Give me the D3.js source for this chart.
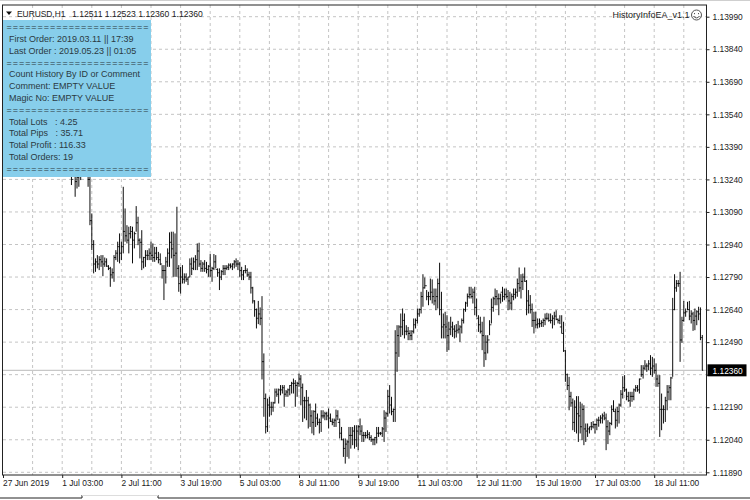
<!DOCTYPE html>
<html>
<head>
<meta charset="utf-8">
<title>EURUSD,H1</title>
<script src="https://d3js.org/d3.v7.min.js"></script>
<style>
html, body { margin: 0; padding: 0; background: #fff; }
svg { display: block; }
text { font-family: 'Liberation Sans', Arial, sans-serif; font-size: 8.4px; fill: #222; white-space: pre; }
</style>
</head>
<body>
<div id="chart"></div>
<script>
// values
var priceTicks = [1.13990,1.13840,1.13690,1.13540,1.13390,1.13240,1.13090,1.12940,1.12790,1.12640,1.12490,1.12340,1.12190,1.12040,1.11890];
var timeLabels = ["27 Jun 2019","1 Jul 03:00","2 Jul 11:00","3 Jul 19:00","5 Jul 03:00","8 Jul 11:00","9 Jul 19:00","11 Jul 03:00","12 Jul 11:00","15 Jul 19:00","17 Jul 03:00","18 Jul 11:00"];
var panelLines = ["First Order: 2019.03.11 || 17:39","Last Order : 2019.05.23 || 01:05",null,
  "Count History By ID or Comment","Comment: EMPTY VALUE","Magic No: EMPTY VALUE",null,
  "Total Lots   : 4.25","Total Pips   : 35.71","Total Profit : 116.33","Total Orders: 19"];
var lastPrice = 1.12360;
var firstOpen = 1.13280;

var highs = [
1.13314,1.13314,1.13314,1.13320,1.13310,1.13300,1.13300,1.13330,1.13340,1.13340,
1.13298,1.13283,1.13083,1.12960,1.12876,1.12891,1.12886,1.12891,1.12891,1.12880,
1.12876,1.12845,1.12837,1.12830,1.12891,1.12914,1.12953,1.12991,1.12953,1.13206,
1.13106,1.13029,1.13022,1.13025,1.13022,1.12999,1.13117,1.13068,1.12968,1.13006,
1.12883,1.12914,1.12914,1.12922,1.12953,1.12945,1.12929,1.12929,1.12906,1.12899,
1.12845,1.12845,1.12883,1.12922,1.12996,1.12999,1.12999,1.12991,1.13114,1.12845,
1.12837,1.12845,1.12807,1.12807,1.12791,1.12876,1.12880,1.12880,1.12891,1.12945,
1.12948,1.12868,1.12860,1.12868,1.12860,1.12845,1.12896,1.12837,1.12896,1.12891,
1.12830,1.12830,1.12822,1.12845,1.12845,1.12845,1.12853,1.12853,1.12853,1.12868,
1.12876,1.12868,1.12860,1.12837,1.12822,1.12845,1.12830,1.12814,1.12814,1.12745,
1.12683,1.12645,1.12680,1.12650,1.12702,1.12438,1.12253,1.12230,1.12238,1.12215,
1.12215,1.12276,1.12276,1.12276,1.12292,1.12292,1.12292,1.12269,1.12276,1.12292,
1.12307,1.12322,1.12315,1.12307,1.12345,1.12338,1.12299,1.12238,1.12269,1.12238,
1.12207,1.12176,1.12176,1.12207,1.12161,1.12138,1.12176,1.12176,1.12169,1.12169,
1.12184,1.12161,1.12138,1.12138,1.12179,1.12176,1.12138,1.12099,1.12046,1.12046,
1.12038,1.12099,1.12099,1.12099,1.12107,1.12107,1.12107,1.12138,1.12107,1.12076,
1.12076,1.12084,1.12076,1.12061,1.12046,1.12053,1.12099,1.12099,1.12076,1.12099,
1.12176,1.12169,1.12269,1.12292,1.12238,1.12184,1.12545,1.12568,1.12568,1.12622,
1.12645,1.12622,1.12568,1.12560,1.12545,1.12545,1.12599,1.12599,1.12645,1.12645,
1.12722,1.12803,1.12788,1.12730,1.12722,1.12783,1.12779,1.12737,1.12737,1.12783,
1.12856,1.12722,1.12622,1.12630,1.12614,1.12584,1.12607,1.12584,1.12568,1.12573,
1.12588,1.12568,1.12599,1.12645,1.12676,1.12714,1.12745,1.12745,1.12737,1.12745,
1.12691,1.12614,1.12607,1.12584,1.12607,1.12522,1.12522,1.12591,1.12691,1.12699,
1.12737,1.12730,1.12714,1.12714,1.12745,1.12737,1.12737,1.12730,1.12722,1.12714,
1.12737,1.12737,1.12783,1.12834,1.12803,1.12806,1.12834,1.12776,1.12730,1.12707,
1.12668,1.12630,1.12630,1.12599,1.12599,1.12591,1.12599,1.12622,1.12625,1.12622,
1.12622,1.12614,1.12630,1.12637,1.12599,1.12614,1.12614,1.12584,1.12453,1.12345,
1.12330,1.12261,1.12230,1.12222,1.12241,1.12241,1.12215,1.12207,1.12199,1.12115,
1.12115,1.12100,1.12122,1.12126,1.12115,1.12138,1.12146,1.12153,1.12161,1.12169,
1.12161,1.12130,1.12122,1.12199,1.12222,1.12184,1.12192,1.12207,1.12269,1.12333,
1.12338,1.12276,1.12261,1.12261,1.12261,1.12276,1.12292,1.12292,1.12322,1.12384,
1.12384,1.12407,1.12392,1.12407,1.12430,1.12422,1.12415,1.12392,1.12338,1.12338,
1.12253,1.12199,1.12238,1.12292,1.12292,1.12330,1.12694,1.12803,1.12776,1.12776,
1.12814,1.12607,1.12680,1.12645,1.12676,1.12680,1.12637,1.12630,1.12645,1.12637,
1.12653,1.12650,1.12523];

var lows = [
1.13260,1.13214,1.13260,1.13160,1.13198,1.13206,1.13237,1.13268,1.13268,1.13268,
1.13206,1.13029,1.12914,1.12807,1.12814,1.12830,1.12822,1.12837,1.12794,1.12837,
1.12837,1.12822,1.12745,1.12783,1.12768,1.12868,1.12860,1.12853,1.12868,1.12899,
1.12953,1.12945,1.12899,1.12968,1.12853,1.12922,1.12999,1.12937,1.12876,1.12822,
1.12830,1.12837,1.12868,1.12868,1.12868,1.12860,1.12860,1.12868,1.12853,1.12845,
1.12783,1.12684,1.12760,1.12837,1.12837,1.12876,1.12791,1.12791,1.12791,1.12722,
1.12714,1.12760,1.12760,1.12768,1.12753,1.12791,1.12799,1.12822,1.12822,1.12822,
1.12837,1.12814,1.12814,1.12814,1.12807,1.12791,1.12791,1.12768,1.12822,1.12830,
1.12791,1.12730,1.12776,1.12799,1.12799,1.12822,1.12822,1.12830,1.12822,1.12830,
1.12837,1.12822,1.12791,1.12776,1.12776,1.12807,1.12791,1.12776,1.12714,1.12668,
1.12607,1.12553,1.12573,1.12568,1.12318,1.12146,1.12069,1.12076,1.12146,1.12153,
1.12169,1.12207,1.12238,1.12207,1.12245,1.12253,1.12192,1.12238,1.12238,1.12245,
1.12253,1.12253,1.12192,1.12238,1.12284,1.12199,1.12122,1.12138,1.12130,1.12092,
1.12099,1.12069,1.12061,1.12099,1.12107,1.12069,1.12076,1.12138,1.12130,1.12130,
1.12092,1.12122,1.12107,1.12099,1.12099,1.12130,1.12046,1.12038,1.11961,1.11930,
1.11961,1.11953,1.11999,1.12015,1.11999,1.12007,1.11992,1.12061,1.12030,1.12030,
1.12046,1.12046,1.12038,1.12030,1.12015,1.12015,1.12023,1.12053,1.12061,1.12053,
1.12030,1.12076,1.12146,1.12161,1.12153,1.12122,1.12122,1.12353,1.12422,1.12514,
1.12522,1.12507,1.12522,1.12499,1.12499,1.12499,1.12530,1.12553,1.12576,1.12607,
1.12622,1.12653,1.12737,1.12683,1.12660,1.12683,1.12668,1.12660,1.12637,1.12645,
1.12614,1.12507,1.12507,1.12507,1.12445,1.12453,1.12522,1.12514,1.12507,1.12511,
1.12530,1.12491,1.12530,1.12576,1.12630,1.12653,1.12691,1.12691,1.12668,1.12614,
1.12607,1.12537,1.12530,1.12453,1.12376,1.12407,1.12438,1.12522,1.12576,1.12630,
1.12660,1.12660,1.12614,1.12668,1.12676,1.12683,1.12691,1.12637,1.12640,1.12637,
1.12683,1.12691,1.12699,1.12722,1.12691,1.12730,1.12768,1.12614,1.12622,1.12622,
1.12560,1.12530,1.12553,1.12553,1.12557,1.12560,1.12560,1.12568,1.12591,1.12584,
1.12576,1.12553,1.12568,1.12591,1.12576,1.12573,1.12530,1.12445,1.12307,1.12269,
1.12176,1.12192,1.12084,1.12076,1.12069,1.12030,1.12069,1.12038,1.12015,1.12030,
1.12053,1.12069,1.12084,1.12092,1.12069,1.12084,1.12100,1.12115,1.12115,1.12130,
1.11992,1.12020,1.12061,1.12107,1.12169,1.12092,1.12100,1.12115,1.12192,1.12230,
1.12261,1.12222,1.12215,1.12192,1.12215,1.12222,1.12261,1.12261,1.12253,1.12330,
1.12322,1.12361,1.12353,1.12361,1.12338,1.12330,1.12345,1.12284,1.12284,1.12053,
1.12084,1.12115,1.12122,1.12176,1.12222,1.12222,1.12330,1.12637,1.12722,1.12745,
1.12399,1.12487,1.12584,1.12607,1.12637,1.12591,1.12576,1.12542,1.12545,1.12568,
1.12591,1.12499,1.12360];

var closes = [
1.13280,1.13240,1.13280,1.13230,1.13250,1.13260,1.13290,1.13300,1.13320,1.13280,
1.13240,1.13050,1.12940,1.12850,1.12860,1.12850,1.12870,1.12860,1.12850,1.12860,
1.12840,1.12830,1.12800,1.12810,1.12880,1.12900,1.12930,1.12900,1.12930,1.13000,
1.12980,1.12960,1.12990,1.13000,1.12960,1.12990,1.13040,1.12960,1.12950,1.12860,
1.12880,1.12890,1.12890,1.12900,1.12890,1.12880,1.12900,1.12880,1.12870,1.12850,
1.12820,1.12820,1.12860,1.12900,1.12950,1.12920,1.12890,1.12900,1.12830,1.12760,
1.12790,1.12780,1.12790,1.12780,1.12790,1.12850,1.12830,1.12860,1.12870,1.12910,
1.12850,1.12830,1.12850,1.12830,1.12825,1.12840,1.12820,1.12830,1.12860,1.12825,
1.12810,1.12790,1.12815,1.12830,1.12830,1.12835,1.12845,1.12840,1.12850,1.12860,
1.12850,1.12850,1.12820,1.12800,1.12820,1.12820,1.12800,1.12790,1.12740,1.12680,
1.12640,1.12600,1.12620,1.12600,1.12400,1.12230,1.12100,1.12200,1.12190,1.12190,
1.12210,1.12260,1.12250,1.12270,1.12270,1.12280,1.12250,1.12260,1.12270,1.12290,
1.12300,1.12300,1.12290,1.12300,1.12320,1.12280,1.12220,1.12220,1.12220,1.12200,
1.12150,1.12120,1.12170,1.12140,1.12120,1.12120,1.12150,1.12150,1.12160,1.12150,
1.12140,1.12125,1.12120,1.12130,1.12150,1.12120,1.12070,1.12040,1.12000,1.12020,
1.12030,1.12060,1.12060,1.12080,1.12040,1.12080,1.12100,1.12080,1.12060,1.12060,
1.12060,1.12065,1.12050,1.12040,1.12040,1.12050,1.12070,1.12070,1.12070,1.12090,
1.12140,1.12160,1.12240,1.12200,1.12170,1.12180,1.12440,1.12520,1.12560,1.12560,
1.12590,1.12540,1.12540,1.12530,1.12520,1.12540,1.12570,1.12590,1.12620,1.12640,
1.12700,1.12740,1.12750,1.12700,1.12700,1.12720,1.12700,1.12680,1.12700,1.12760,
1.12640,1.12560,1.12570,1.12560,1.12520,1.12550,1.12560,1.12550,1.12540,1.12545,
1.12550,1.12560,1.12590,1.12640,1.12670,1.12700,1.12710,1.12700,1.12720,1.12650,
1.12600,1.12570,1.12540,1.12520,1.12440,1.12490,1.12500,1.12570,1.12650,1.12690,
1.12700,1.12690,1.12690,1.12720,1.12700,1.12710,1.12700,1.12680,1.12670,1.12700,
1.12710,1.12720,1.12760,1.12740,1.12770,1.12790,1.12770,1.12680,1.12660,1.12640,
1.12590,1.12590,1.12570,1.12575,1.12575,1.12580,1.12590,1.12600,1.12600,1.12590,
1.12590,1.12600,1.12610,1.12595,1.12590,1.12560,1.12530,1.12450,1.12340,1.12290,
1.12240,1.12210,1.12120,1.12190,1.12160,1.12150,1.12100,1.12180,1.12090,1.12080,
1.12090,1.12100,1.12100,1.12110,1.12110,1.12130,1.12130,1.12140,1.12150,1.12140,
1.12100,1.12080,1.12115,1.12180,1.12170,1.12130,1.12170,1.12200,1.12250,1.12280,
1.12270,1.12240,1.12220,1.12240,1.12240,1.12270,1.12280,1.12270,1.12320,1.12340,
1.12370,1.12380,1.12380,1.12390,1.12370,1.12380,1.12360,1.12320,1.12300,1.12180,
1.12180,1.12180,1.12220,1.12260,1.12280,1.12325,1.12640,1.12740,1.12760,1.12760,
1.12500,1.12590,1.12625,1.12630,1.12640,1.12610,1.12620,1.12590,1.12610,1.12630,
1.12620,1.12511,1.12360];

var barsHiddenLeft = 36;   // older bars sit behind the info panel
var barsPerLabel = 32, barsPerGrid = 16;

var svg_width = 750, svg_height = 500;
var plot = {left: 3, right: 706.5, top: 5, bottom: 475};

var svg = d3.select("#chart").append("svg")
  .attr("width", svg_width)
  .attr("height", svg_height);

var x = d3.scaleLinear().domain([0, 380]).range([plot.left, plot.left + 1.85 * 380]);
var y = d3.scaleLinear().domain([1.11890, 1.13990]).range([472.3, 16.7]);

// window edge at the top
svg.append("line").attr("x1", 0).attr("x2", svg_width).attr("y1", 0.5).attr("y2", 0.5).attr("stroke", "#cfcfcf");

// grid
var gridIdx = d3.range(barsPerGrid, 380, barsPerGrid);
svg.append("g").selectAll("line").data(gridIdx).enter().append("line")
  .attr("x1", function(d) { return x(d); }).attr("x2", function(d) { return x(d); })
  .attr("y1", plot.top).attr("y2", plot.bottom)
  .attr("stroke", "#c4c4c4").attr("stroke-dasharray", "3,3");
svg.append("g").selectAll("line").data(priceTicks).enter().append("line")
  .attr("x1", plot.left).attr("x2", plot.right)
  .attr("y1", function(d) { return y(d); }).attr("y2", function(d) { return y(d); })
  .attr("stroke", "#c4c4c4").attr("stroke-dasharray", "3,3");

// last price line
svg.append("line")
  .attr("x1", plot.left).attr("x2", plot.right)
  .attr("y1", y(lastPrice)).attr("y2", y(lastPrice))
  .attr("stroke", "#c8c8c8").attr("stroke-width", 1.2);

// OHLC bars
var bars = highs.map(function(h, i) {
  return {i: i + barsHiddenLeft, high: h, low: lows[i], open: i ? closes[i - 1] : firstOpen, close: closes[i]};
});
svg.append("g").selectAll("path").data(bars).enter().append("path")
  .attr("fill", "none")
  .attr("stroke", "#000")
  .attr("stroke-width", 0.95)
  .attr("d", function(d) {
    var c = x(d.i);
    return "M" + c + "," + y(d.high) + "V" + y(d.low)
      + "M" + (c - 0.9) + "," + y(d.open) + "H" + c
      + "M" + c + "," + y(d.close) + "H" + (c + 0.9);
  });

// frame
svg.append("rect")
  .attr("x", plot.left - 0.5).attr("y", plot.top)
  .attr("width", plot.right - plot.left + 0.5).attr("height", plot.bottom - plot.top)
  .attr("fill", "none").attr("stroke", "#222");

// price axis, the 1.12340 label sits behind the last price tag so it stays blank
var yAxis = d3.axisRight(y).tickValues(priceTicks).tickSize(3).tickSizeOuter(0)
  .tickFormat(function(d) { return Math.abs(d - 1.12340) < 1e-6 ? "" : d.toFixed(5); });
var yG = svg.append("g").attr("transform", "translate(" + plot.right + ",0)").call(yAxis);
yG.select(".domain").remove();
yG.selectAll("line").attr("stroke", "#222");
yG.selectAll("text").attr("x", 6).attr("font-family", null).attr("font-size", null);

// time axis
var labelIdx = timeLabels.map(function(d, i) { return i * barsPerLabel; });
var xAxis = d3.axisBottom(x).tickValues(labelIdx).tickSize(3).tickSizeOuter(0)
  .tickFormat(function(d, i) { return timeLabels[i]; });
var xG = svg.append("g").attr("transform", "translate(0," + plot.bottom + ")").call(xAxis);
xG.select(".domain").remove();
xG.selectAll("line").attr("stroke", "#222");
xG.selectAll("text").attr("text-anchor", "start").attr("x", -0.5).attr("y", 5).attr("font-family", null).attr("font-size", null);

// last price tag
svg.append("rect").attr("x", plot.right + 1).attr("y", y(lastPrice) - 6)
  .attr("width", 39).attr("height", 12).attr("fill", "#000");
svg.append("text").attr("x", plot.right + 6).attr("y", y(lastPrice) + 3.2)
  .style("fill", "#fff").text(d3.format(".5f")(lastPrice));

// info panel
var panel = svg.append("g");
panel.append("rect").attr("x", 3).attr("y", 20).attr("width", 148).attr("height", 157).attr("fill", "#87ceeb");
var panelY = d3.scaleLinear().domain([0, 12]).range([27, 168.5]);
var rows = [null].concat(panelLines).concat([null]);
panel.selectAll("text").data(rows).enter().append("text")
  .attr("x", function(d) { return d ? 9 : 6.5; })
  .attr("y", function(d, i) { return panelY(i) + 3.2; })
  .style("font-size", "9px")
  .style("fill", "#2b3a42")
  .attr("textLength", function(d) { return d ? null : 142; })
  .attr("lengthAdjust", "spacing")
  .text(function(d) { return d || "======================="; });

// title
svg.append("path").attr("d", "M6,11.5H12L9,15Z").attr("fill", "#111");
svg.append("text").attr("x", 17).attr("y", 17).style("font-size", "8.4px").text("EURUSD,H1");
svg.append("text").attr("x", 72).attr("y", 17).style("font-size", "8.6px").text("1.12511 1.12523 1.12360 1.12360");

// expert name and smiley
svg.append("text").attr("x", 689.5).attr("y", 17.5).attr("text-anchor", "end").style("font-size", "9px").text("HistoryInfoEA_v1.1");
var smile = svg.append("g").attr("transform", "translate(696.5,15)").attr("fill", "none").attr("stroke", "#555");
smile.append("circle").attr("r", 5);
smile.append("path").attr("d", "M-2.8,1A3,3 0 0 0 2.8,1");
smile.append("path").attr("d", "M-2,-2V-0.8M2,-2V-0.8");

// tab strip
svg.append("path").attr("d", "M0,498H82V495M158,495V498H750").attr("fill", "none").attr("stroke", "#222");
svg.append("path").attr("d", "M82,495.5H158").attr("fill", "none").attr("stroke", "#ddd");
</script>
</body>
</html>
